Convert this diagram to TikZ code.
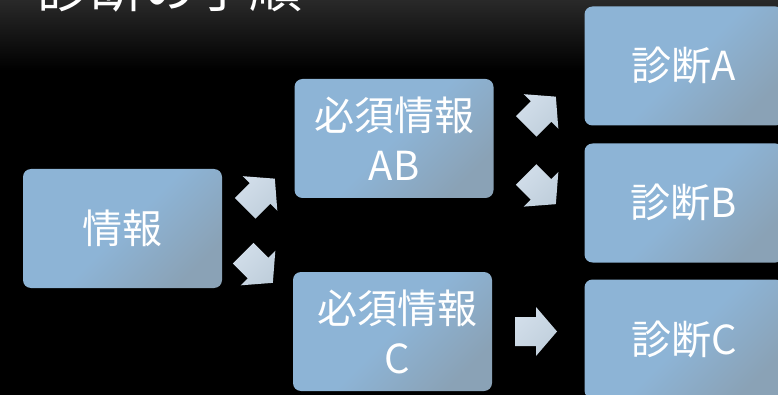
\documentclass[tikz,border=0pt]{standalone}
\usepackage{fontspec}
\setmainfont{Noto Sans CJK JP}
\definecolor{boxA}{HTML}{8DB4D6}
\definecolor{boxB}{HTML}{8AA2B6}
\definecolor{arrA}{HTML}{D2DEEA}
\definecolor{arrB}{HTML}{C0CFDC}
\definecolor{topgray}{HTML}{292929}
\tikzset{
  stepbox/.style={rounded corners=8pt, minimum width=199pt, minimum height=119pt,
    inner sep=0pt, text=white, font=\fontsize{40}{50}\selectfont, align=center,
    top color=boxA, bottom color=boxB, middle color=boxA, shading angle=45},
  blockarrow/.style={top color=arrA, bottom color=arrB, shading angle=45},
}
\begin{document}
\begin{tikzpicture}[x=1pt,y=-1pt]
  \useasboundingbox (0,0) rectangle (778,395);
  \clip (0,0) rectangle (778,395);
  \fill[black] (0,0) rectangle (778,395);
  \shade[top color=topgray, bottom color=black] (0,0) rectangle (778,70);

  \node[anchor=base west, text=white, font=\fontsize{53}{60}\selectfont] (title) at (34,8) {診断の手順};

  \node[stepbox] (info) at (122.5,228.5) {情報};
  \node[stepbox] (ab) at (394,138.5) {必須情報\\AB};
  \node[stepbox] (c) at (392.5,331.5) {\hspace*{10pt}必須情報\\\hspace*{10pt}C};
  \node[stepbox] (da) at (684,66) {診断A};
  \node[stepbox] (db) at (684,203) {診断B};
  \node[stepbox] (dc) at (684,339) {診断C};

  % block arrows
  \foreach \cx/\cy/\ang in {260/193.5/45, 258/268/-45, 541/111.5/45, 541/189.3/-45, 536/331.5/0}{
    \begin{scope}[shift={(\cx,\cy)}, rotate=\ang]
      \shade[blockarrow] (-21,-14.5) -- (0,-14.5) -- (0,-24.5) -- (21,0) -- (0,24.5) -- (0,14.5) -- (-21,14.5) -- cycle;
    \end{scope}
  }
\end{tikzpicture}
\end{document}
